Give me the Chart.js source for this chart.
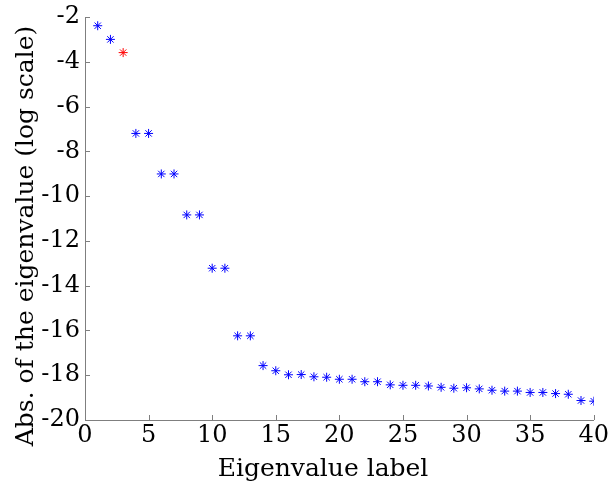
<!DOCTYPE html>
<html>
<head>
<meta charset="utf-8">
<script src="https://cdn.jsdelivr.net/npm/chart.js@4/dist/chart.umd.min.js"></script>
<style>
  html, body { margin: 0; padding: 0; background: #fff; }
  #wrap { width: 613px; height: 485px; position: relative; }
</style>
</head>
<body>
<div id="wrap"><canvas id="eig-chart"></canvas></div>
<script>
// eigenvalue index and log10 of |eigenvalue|
const eigenLabels = [
  1, 2, 3, 4, 5, 6, 7, 8, 9, 10,
  11, 12, 13, 14, 15, 16, 17, 18, 19, 20,
  21, 22, 23, 24, 25, 26, 27, 28, 29, 30,
  31, 32, 33, 34, 35, 36, 37, 38, 39, 40,
];
const logAbsValues = [
  -2.39, -3.00, -3.59, -7.20, -7.20, -9.01, -9.01, -10.84, -10.84, -13.22,
  -13.22, -16.24, -16.24, -17.57, -17.80, -17.98, -17.97, -18.07, -18.09, -18.18,
  -18.18, -18.29, -18.29, -18.43, -18.45, -18.45, -18.48, -18.54, -18.58, -18.56,
  -18.61, -18.67, -18.71, -18.71, -18.77, -18.77, -18.82, -18.85, -19.13, -19.16,
];
const highlightedLabels = [3];

const xTicks = [0, 5, 10, 15, 20, 25, 30, 35, 40];
const yTicks = [-20, -18, -16, -14, -12, -10, -8, -6, -4, -2];

const xTitle = "Eigenvalue label";
const yTitle = "Abs. of the eigenvalue (log scale)";

const AXIS_COLOR = "#7f7f7f";
const SERIF = '"DejaVu Serif"';

const points = eigenLabels.map((x, i) => ({ x, y: logAbsValues[i] }));
const pointColors = eigenLabels.map((x) =>
  highlightedLabels.includes(x) ? "#ff0000" : "#0000ff",
);

// short tick marks drawn inside the plot area
const innerTicks = {
  id: "innerTicks",
  afterDraw(chart) {
    const { ctx, chartArea, scales } = chart;
    ctx.save();
    ctx.strokeStyle = AXIS_COLOR;
    ctx.lineWidth = 1;
    ctx.beginPath();
    xTicks.forEach((v) => {
      const px = Math.round(scales.x.getPixelForValue(v)) + 0.5;
      ctx.moveTo(px, chartArea.bottom);
      ctx.lineTo(px, chartArea.bottom - 5);
    });
    yTicks.forEach((v) => {
      const py = Math.round(scales.y.getPixelForValue(v)) + 0.5;
      ctx.moveTo(chartArea.left, py);
      ctx.lineTo(chartArea.left + 5, py);
    });
    ctx.stroke();
    ctx.restore();
  },
};

// axis titles
const axisTitles = {
  id: "axisTitles",
  afterDraw(chart) {
    const { ctx } = chart;
    ctx.save();
    ctx.fillStyle = "#000";
    ctx.font = `25px ${SERIF}`;
    ctx.textAlign = "center";
    ctx.textBaseline = "alphabetic";
    ctx.fillText(xTitle, 323, 476);
    ctx.translate(33, 236);
    ctx.rotate(-Math.PI / 2);
    ctx.fillText(yTitle, 0, 0);
    ctx.restore();
  },
};

new Chart(document.getElementById("eig-chart"), {
  type: "scatter",
  data: {
    datasets: [
      {
        data: points,
        pointStyle: "star",
        pointRadius: 4.5,
        pointHoverRadius: 4.5,
        borderWidth: 1,
        pointBorderColor: pointColors,
        pointBackgroundColor: pointColors,
        showLine: false,
      },
    ],
  },
  options: {
    responsive: true,
    maintainAspectRatio: false,
    animation: false,
    events: [],
    layout: { padding: { top: 17, right: 16, left: 0, bottom: 0 } },
    plugins: {
      legend: { display: false },
      tooltip: { enabled: false },
    },
    scales: {
      x: {
        type: "linear",
        min: 0,
        max: 40,
        afterFit: (scale) => { scale.height = 65; },
        afterBuildTicks: (scale) => { scale.ticks = xTicks.map((value) => ({ value })); },
        grid: { display: false, drawTicks: false },
        border: { color: AXIS_COLOR, width: 1 },
        ticks: {
          color: "#000",
          padding: 4,
          maxRotation: 0,
          font: { family: SERIF, size: 24, lineHeight: 1 },
          callback: (v) => String(v),
        },
      },
      y: {
        type: "linear",
        min: -20,
        max: -2,
        afterFit: (scale) => { scale.width = 85; },
        afterBuildTicks: (scale) => { scale.ticks = yTicks.map((value) => ({ value })); },
        grid: { display: false, drawTicks: false },
        border: { color: AXIS_COLOR, width: 1 },
        ticks: {
          color: "#000",
          padding: 5,
          font: { family: SERIF, size: 24, lineHeight: 1 },
          callback: (v) => String(v),
        },
      },
    },
  },
  plugins: [innerTicks, axisTitles],
});
</script>
</body>
</html>
